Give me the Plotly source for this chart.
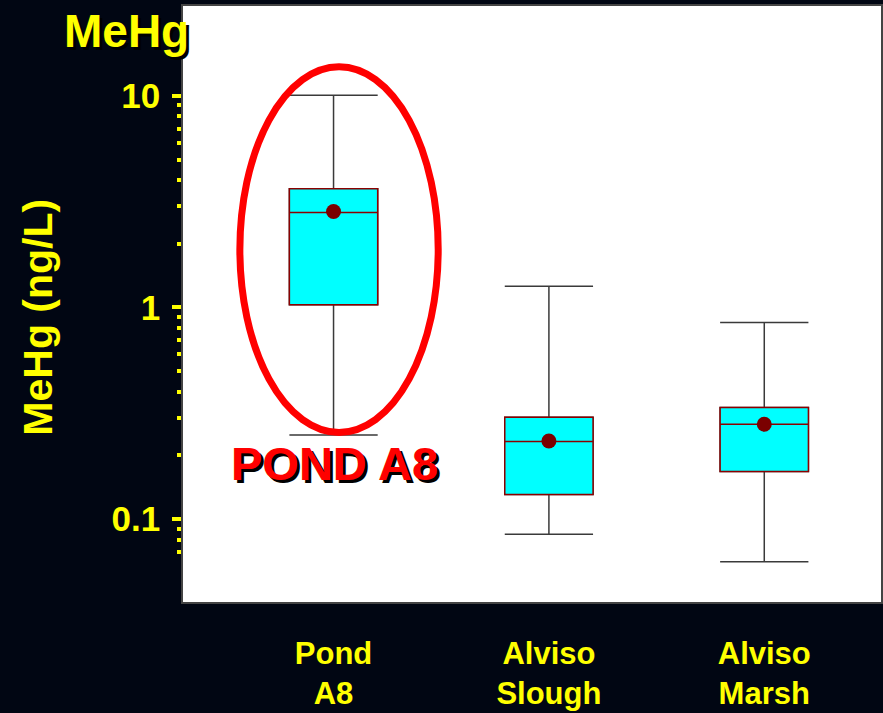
import plotly.graph_objects as go

# Summary statistics of methylmercury (ng/L) by site
sites = ["Pond<br>A8", "Alviso<br>Slough", "Alviso<br>Marsh"]
positions = [0, 1, 2]
lower_whisker = [0.25, 0.085, 0.063]
q1 = [1.03, 0.131, 0.168]
median = [2.81, 0.233, 0.281]
q3 = [3.64, 0.303, 0.337]
upper_whisker = [10.05, 1.26, 0.85]
means = [2.84, 0.234, 0.281]

y_ticks = [0.1, 1, 10]
y_tick_text = ["0.1", "1", "10"]
y_minor = [0.07, 0.08, 0.09, 0.2, 0.3, 0.4, 0.5, 0.6, 0.7, 0.8, 0.9,
           2, 3, 4, 5, 6, 7, 8, 9]

BG = "#010613"
YELLOW = "#FFFF00"
BOX_W = 0.41

fig = go.Figure()

# Whiskers with caps (black), drawn underneath the filled boxes
fig.add_trace(go.Box(
    x=positions, q1=q1, median=median, q3=q3,
    lowerfence=lower_whisker, upperfence=upper_whisker,
    width=BOX_W, whiskerwidth=1,
    fillcolor="rgba(0,0,0,0)", line=dict(color="#3a3a3a", width=1.5),
    hoverinfo="skip", showlegend=False,
))

# Interquartile boxes with median line
fig.add_trace(go.Box(
    x=positions, q1=q1, median=median, q3=q3,
    lowerfence=q1, upperfence=q3,
    width=BOX_W, whiskerwidth=0,
    fillcolor="#00FFFF", line=dict(color="#8B0000", width=1.5),
    hoverinfo="skip", showlegend=False,
))

# Means
fig.add_trace(go.Scatter(
    x=positions, y=means, mode="markers",
    marker=dict(color="#7A0000", size=15),
    hoverinfo="skip", showlegend=False,
))

fig.update_layout(
    width=883, height=713,
    margin=dict(l=183, r=0, t=6, b=111),
    paper_bgcolor=BG, plot_bgcolor="white",
    boxmode="overlay",
    showlegend=False,
    font=dict(family="Liberation Sans, Arial, sans-serif", color=YELLOW),
)

fig.update_xaxes(
    range=[-0.699, 2.542],
    tickvals=positions, ticktext=sites,
    tickfont=dict(family="Liberation Sans, Arial", size=31, color=YELLOW, weight="bold"),
    ticks="", ticklabelstandoff=23,
    showgrid=False, zeroline=False,
    showline=True, linecolor="#444444", linewidth=1.5, mirror=True,
)

fig.update_yaxes(
    type="log", range=[-1.391, 1.424],
    tickvals=y_ticks, ticktext=y_tick_text,
    tickfont=dict(size=35, color=YELLOW, weight="bold"),
    ticks="outside", ticklen=9, tickwidth=4, tickcolor=YELLOW,
    ticklabelstandoff=5,
    minor=dict(tickvals=y_minor, ticks="outside", ticklen=4, tickwidth=4,
               tickcolor=YELLOW, showgrid=False),
    showgrid=False, zeroline=False,
    showline=True, linecolor="#444444", linewidth=1.5, mirror=True,
)

# Highlight around the Pond A8 box
fig.add_shape(
    type="circle", xref="x", yref="y",
    x0=-0.435, x1=0.486, y0=0.257, y1=13.7,
    line=dict(color="#FF0000", width=7),
)

fig.add_annotation(
    text="POND A8", xref="x", yref="paper", x=0.005, y=0.233,
    showarrow=False, xanchor="center", yanchor="middle",
    font=dict(size=47, color="#FF0000", weight="bold", shadow="3px 3px 0px #000000"),
)

fig.add_annotation(
    text="MeHg", xref="paper", yref="paper", x=-0.081, y=0.958,
    showarrow=False, xanchor="center", yanchor="middle",
    font=dict(size=46, color=YELLOW, weight="bold", shadow="3px 3px 0px #000000"),
)

fig.add_annotation(
    text="MeHg (ng/L)", xref="paper", yref="paper", x=-0.207, y=0.478,
    showarrow=False, xanchor="center", yanchor="middle", textangle=-90,
    font=dict(size=41, color=YELLOW, weight="bold"),
)

fig.write_html("out.html")
